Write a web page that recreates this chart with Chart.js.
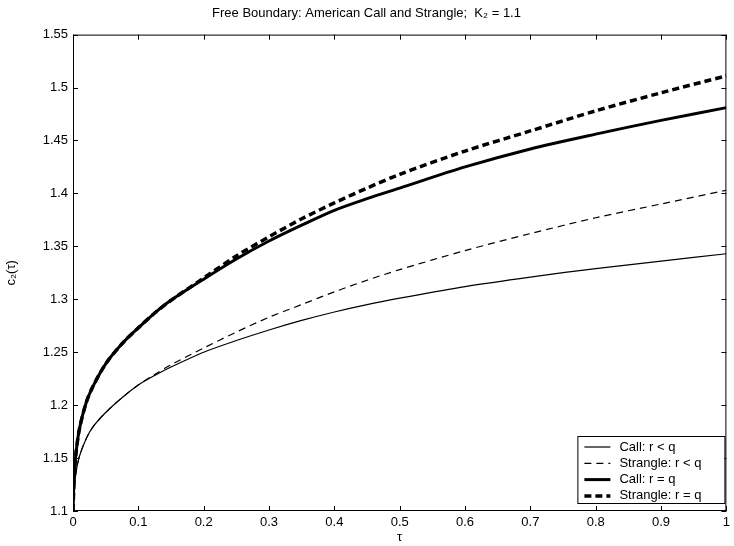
<!DOCTYPE html>
<html>
<head>
<meta charset="utf-8">
<title>Free Boundary</title>
<script src="https://cdn.jsdelivr.net/npm/chart.js@4.4.1/dist/chart.umd.min.js"></script>
<style>
  html, body { margin: 0; padding: 0; background: #fff; }
  #wrap { width: 734px; height: 546px; }
</style>
</head>
<body>
<div id="wrap"><canvas id="boundaryChart" width="734" height="546"></canvas></div>
<script>
const tau = [0, 0.002, 0.005, 0.01, 0.02, 0.03, 0.05, 0.075, 0.1, 0.125, 0.15, 0.2, 0.25, 0.3, 0.35, 0.4, 0.45, 0.5, 0.6, 0.7, 0.8, 0.9, 1.0];

const callRlessQ     = [1.10, 1.122, 1.138, 1.152, 1.168, 1.179, 1.193, 1.207, 1.219, 1.228, 1.236, 1.250, 1.261, 1.271, 1.280, 1.288, 1.295, 1.301, 1.312, 1.321, 1.329, 1.336, 1.343];
const strangleRlessQ = [1.10, 1.122, 1.138, 1.152, 1.168, 1.179, 1.193, 1.207, 1.219, 1.229, 1.238, 1.254, 1.269, 1.283, 1.295, 1.307, 1.318, 1.328, 1.346, 1.362, 1.377, 1.390, 1.403];
const callReqQ       = [1.10, 1.135, 1.157, 1.178, 1.202, 1.217, 1.239, 1.258, 1.273, 1.287, 1.299, 1.319, 1.338, 1.355, 1.370, 1.384, 1.395, 1.405, 1.425, 1.442, 1.456, 1.469, 1.481];
const strangleReqQ   = [1.10, 1.135, 1.157, 1.178, 1.202, 1.217, 1.239, 1.258, 1.273, 1.287, 1.299, 1.320, 1.341, 1.359, 1.376, 1.391, 1.405, 1.418, 1.440, 1.459, 1.478, 1.495, 1.511];

const seriesLabels = ["Call: r < q", "Strangle: r < q", "Call: r = q", "Strangle: r = q"];

const xTicks = [0, 0.1, 0.2, 0.3, 0.4, 0.5, 0.6, 0.7, 0.8, 0.9, 1];
const yTicks = [1.1, 1.15, 1.2, 1.25, 1.3, 1.35, 1.4, 1.45, 1.5, 1.55];

const FONT = "'Liberation Sans', Arial, Helvetica, sans-serif";

const toPoints = (ys) => tau.map((t, i) => ({ x: t, y: ys[i] }));

const makeSet = (label, ys, width, dash) => ({
    label: label,
    data: toPoints(ys),
    borderColor: "#000",
    borderWidth: width,
    borderDash: dash,
    pointRadius: 0,
    fill: false,
    tension: 0.3
});

// frame on all four sides with inward ticks, matlab style
const framePlugin = {
    id: "frame",
    afterDraw(chart) {
        const { ctx, chartArea: a, scales } = chart;
        ctx.save();
        ctx.strokeStyle = "#000";
        ctx.lineWidth = 1;
        ctx.setLineDash([]);
        ctx.strokeRect(a.left + 0.5, a.top + 0.5, a.right - a.left - 1, a.bottom - a.top - 1);
        const len = 5;
        ctx.beginPath();
        xTicks.forEach(v => {
            const px = Math.round(scales.x.getPixelForValue(v)) + 0.5;
            ctx.moveTo(px, a.bottom); ctx.lineTo(px, a.bottom - len);
            ctx.moveTo(px, a.top); ctx.lineTo(px, a.top + len);
        });
        yTicks.forEach(v => {
            const py = Math.round(scales.y.getPixelForValue(v)) + 0.5;
            ctx.moveTo(a.left, py); ctx.lineTo(a.left + len, py);
            ctx.moveTo(a.right, py); ctx.lineTo(a.right - len, py);
        });
        ctx.stroke();
        ctx.restore();
    }
};

// legend box in the lower right corner
const legendPlugin = {
    id: "boxLegend",
    afterDraw(chart) {
        const { ctx, chartArea: a } = chart;
        const w = 147, h = 67;
        const left = a.right - w - 2, top = a.bottom - h - 8;
        ctx.save();
        ctx.fillStyle = "#fff";
        ctx.fillRect(left, top, w, h);
        ctx.strokeStyle = "#000";
        ctx.lineWidth = 1;
        ctx.setLineDash([]);
        ctx.strokeRect(left + 0.5, top + 0.5, w, h);
        ctx.font = "13px " + FONT;
        ctx.textBaseline = "middle";
        ctx.fillStyle = "#000";
        chart.data.datasets.forEach((ds, i) => {
            const y = top + 11 + i * 16.3;
            ctx.beginPath();
            ctx.lineWidth = ds.borderWidth;
            ctx.setLineDash(ds.borderDash || []);
            ctx.moveTo(left + 7, y);
            ctx.lineTo(left + 33, y);
            ctx.stroke();
            ctx.setLineDash([]);
            ctx.fillText(ds.label, left + 42, y);
        });
        ctx.restore();
    }
};

const chartCtx = document.getElementById("boundaryChart").getContext("2d");

new Chart(chartCtx, {
    type: "line",
    data: {
        datasets: [
            makeSet(seriesLabels[0], callRlessQ, 1.2, []),
            makeSet(seriesLabels[1], strangleRlessQ, 1.2, [7, 5]),
            makeSet(seriesLabels[2], callReqQ, 3, []),
            makeSet(seriesLabels[3], strangleReqQ, 3.5, [7, 4])
        ]
    },
    options: {
        responsive: false,
        animation: false,
        devicePixelRatio: 1,
        layout: { padding: { left: 0, right: 1, top: 0, bottom: 0 } },
        plugins: {
            legend: { display: false },
            tooltip: { enabled: false },
            title: {
                display: true,
                text: "Free Boundary: American Call and Strangle;  K\u2082 = 1.1",
                color: "#000",
                font: { family: FONT, size: 13, weight: "normal" },
                padding: { top: 6, bottom: 13 }
            }
        },
        scales: {
            x: {
                type: "linear",
                min: 0,
                max: 1,
                afterBuildTicks: (scale) => { scale.ticks = xTicks.map(v => ({ value: v })); },
                afterFit: (scale) => { scale.height = 35; },
                grid: { display: false, drawTicks: false },
                border: { display: false },
                ticks: {
                    color: "#000",
                    font: { family: FONT, size: 13 },
                    padding: 4,
                    maxRotation: 0,
                    callback: (v) => String(Number(v.toFixed(2)))
                },
                title: {
                    display: true,
                    text: "\u03c4",
                    color: "#000",
                    font: { family: FONT, size: 13 },
                    padding: { top: 0, bottom: 1 }
                }
            },
            y: {
                type: "linear",
                min: 1.1,
                max: 1.55,
                afterBuildTicks: (scale) => { scale.ticks = yTicks.map(v => ({ value: v })); },
                afterFit: (scale) => { scale.width = 73; },
                grid: { display: false, drawTicks: false },
                border: { display: false },
                ticks: {
                    color: "#000",
                    font: { family: FONT, size: 13 },
                    padding: 5,
                    callback: (v) => String(Number(v.toFixed(2)))
                },
                title: {
                    display: true,
                    text: "c\u2082(\u03c4)",
                    color: "#000",
                    font: { family: FONT, size: 13 },
                    padding: { top: 4, bottom: 0 }
                }
            }
        }
    },
    plugins: [framePlugin, legendPlugin]
});
</script>
</body>
</html>
